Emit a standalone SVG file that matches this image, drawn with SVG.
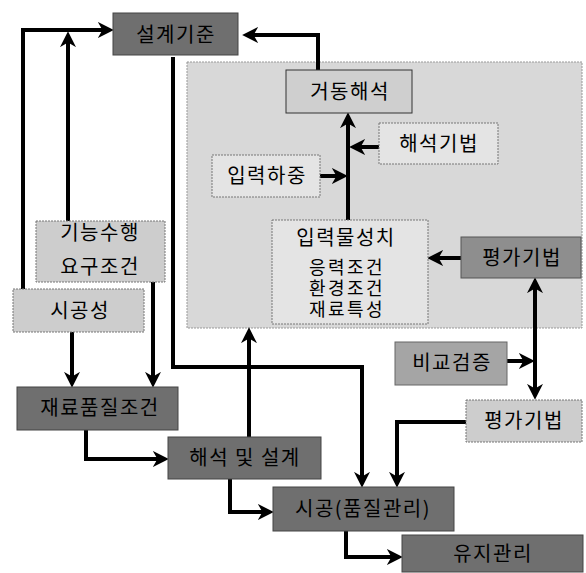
<svg xmlns="http://www.w3.org/2000/svg" width="586" height="573" viewBox="0 0 586 573">
<defs>
<marker id="ah" markerUnits="userSpaceOnUse" markerWidth="16" markerHeight="16" refX="8" refY="7" orient="auto-start-reverse" viewBox="0 0 14 14">
<path d="M0,0 L14,7 L0,14 L4,7 z" fill="#000"/>
</marker>
</defs>
<style>
text{font-family:"Noto Sans CJK KR","Noto Sans",sans-serif;font-size:20px;letter-spacing:1.5px;text-anchor:middle;fill:#000}
.sm{font-size:18px;letter-spacing:2.5px}
.dark{fill:#6f6f6f;stroke:#444;stroke-width:1}
.mid{fill:#8e8e8e;stroke:#555;stroke-width:1}
.gray{fill:#a5a5a5;stroke:#666;stroke-width:1}
.light{fill:#cdcdcd;stroke:#777;stroke-width:1;stroke-dasharray:2 1}
.pale{fill:#e4e4e4;stroke:#777;stroke-width:1;stroke-dasharray:2 1}
.solidl{fill:#cfcfcf;stroke:#333;stroke-width:1}
.c{fill:none;stroke:#000;stroke-width:4}
.a{marker-end:url(#ah)}
.d{marker-start:url(#ah);marker-end:url(#ah)}
</style>
<rect id="panel" x="187" y="62" width="395" height="266" fill="#d8d8d8" stroke="#999" stroke-width="1" stroke-dasharray="2 1"/>
<g id="connectors">
<path class="c a" d="M23,289 V30 H107"/>
<path class="c a" d="M68,221 V38"/>
<path class="c a" d="M318,70 V35 H249"/>
<path class="c a" d="M173,57 V367 H362 V481"/>
<path class="c a" d="M348,220 V119"/>
<path class="c a" d="M379,147 H356"/>
<path class="c a" d="M320,176 H341"/>
<path class="c a" d="M461,258 H434"/>
<path class="c d" d="M535,284 V393"/>
<path class="c a" d="M507,361 H528"/>
<path class="c a" d="M466,422 H397 V481"/>
<path class="c a" d="M72,332 V381"/>
<path class="c a" d="M153,282 V381"/>
<path class="c a" d="M86,430 V459 H162"/>
<path class="c a" d="M249,437 V334"/>
<path class="c a" d="M230,479 V512 H267"/>
<path class="c a" d="M346,531 V557 H396"/>
</g>
<g id="n-design-std"><rect class="dark" x="113" y="13" width="125" height="42"/><text x="176" y="42">설계기준</text></g>
<g id="n-behavior"><rect class="solidl" x="286" y="70" width="126" height="43"/><text x="350" y="99">거동해석</text></g>
<g id="n-method"><rect class="pale" x="379" y="123" width="119" height="41"/><text x="439" y="151">해석기법</text></g>
<g id="n-load"><rect class="pale" x="212" y="155" width="108" height="42"/><text x="267" y="183">입력하중</text></g>
<g id="n-props"><rect class="pale" x="272" y="220" width="156" height="104"/><text x="346" y="245">입력물성치</text><text class="sm" x="347" y="274">응력조건</text><text class="sm" x="347" y="295">환경조건</text><text class="sm" x="347" y="316">재료특성</text></g>
<g id="n-eval1"><rect class="mid" x="461" y="237" width="120" height="41"/><text x="522" y="265">평가기법</text></g>
<g id="n-func"><rect class="light" x="36" y="221" width="129" height="61"/><text x="100" y="240">기능수행</text><text x="100" y="274">요구조건</text></g>
<g id="n-constr"><rect class="light" x="13" y="289" width="131" height="43"/><text x="80" y="318">시공성</text></g>
<g id="n-compare"><rect class="gray" x="395" y="342" width="112" height="43"/><text x="452" y="370">비교검증</text></g>
<g id="n-eval2"><rect class="light" x="466" y="400" width="116" height="42"/><text x="524" y="428">평가기법</text></g>
<g id="n-quality"><rect class="dark" x="17" y="387" width="161" height="43"/><text x="100" y="415">재료품질조건</text></g>
<g id="n-analysis"><rect class="dark" x="168" y="437" width="153" height="42"/><text x="245" y="465">해석 및 설계</text></g>
<g id="n-build"><rect class="dark" x="273" y="487" width="181" height="44"/><text x="363" y="516">시공(품질관리)</text></g>
<g id="n-maint"><rect class="dark" x="402" y="535" width="181" height="37"/><text x="493" y="561">유지관리</text></g>
</svg>
